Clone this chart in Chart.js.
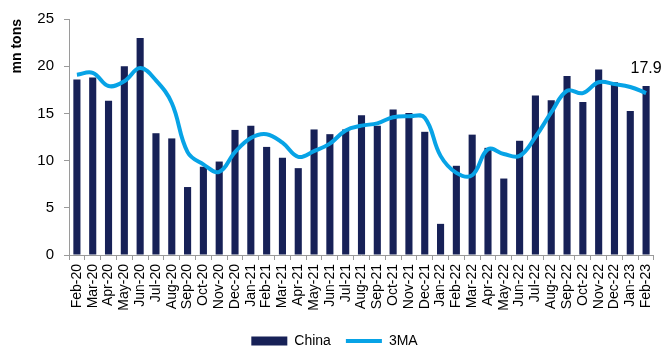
<!DOCTYPE html>
<html>
<head>
<meta charset="utf-8">
<script src="https://cdn.jsdelivr.net/npm/chart.js@4/dist/chart.umd.min.js"></script>
<style>
  html, body { margin: 0; padding: 0; background: #fff; }
  #wrap { width: 667px; height: 354px; }
</style>
</head>
<body>
<div id="wrap"><canvas id="coalChart"></canvas></div>
<script>
const months = ['Feb-20', 'Mar-20', 'Apr-20', 'May-20', 'Jun-20', 'Jul-20', 'Aug-20', 'Sep-20', 'Oct-20', 'Nov-20', 'Dec-20',
    'Jan-21', 'Feb-21', 'Mar-21', 'Apr-21', 'May-21', 'Jun-21', 'Jul-21', 'Aug-21', 'Sep-21', 'Oct-21', 'Nov-21', 'Dec-21',
    'Jan-22', 'Feb-22', 'Mar-22', 'Apr-22', 'May-22', 'Jun-22', 'Jul-22', 'Aug-22', 'Sep-22', 'Oct-22', 'Nov-22', 'Dec-22',
    'Jan-23', 'Feb-23'];

const china = [18.6, 18.8, 16.35, 20.0, 23.0, 12.9, 12.35, 7.2, 9.35, 9.9, 13.25,
    13.7, 11.45, 10.3, 9.2, 13.3, 12.8, 13.3, 14.8, 13.7, 15.4, 15.05, 13.05,
    3.3, 9.45, 12.75, 11.35, 8.1, 12.1, 16.9, 16.4, 18.95, 16.2, 19.65, 18.3,
    15.25, 17.9];

const ma3 = [19.1, 19.3, 17.9, 18.4, 19.8, 18.5, 16.1, 10.9, 9.6, 8.8, 10.9,
    12.4, 12.8, 11.9, 10.4, 11.0, 11.8, 13.2, 13.7, 13.95, 14.6, 14.7, 14.55,
    10.5, 8.7, 8.45, 11.2, 10.7, 10.5, 12.5, 15.1, 17.4, 17.15, 18.3, 18.1,
    17.8, 17.15];

const yTicks = [0, 5, 10, 15, 20, 25];

const navy = '#172157';
const sky = '#07a3e6';
const axisGrey = '#9a9a9a';

Chart.defaults.font.family = '"Liberation Sans", Arial, sans-serif';
Chart.defaults.color = '#000';

// value label over the last bar
const lastLabel = {
    id: 'lastLabel',
    afterDatasetsDraw(chart) {
        const meta = chart.getDatasetMeta(0);
        const bar = meta.data[meta.data.length - 1];
        const ctx = chart.ctx;
        ctx.save();
        ctx.font = '16px "Liberation Sans", Arial, sans-serif';
        ctx.fillStyle = '#000';
        ctx.textAlign = 'center';
        ctx.textBaseline = 'bottom';
        ctx.fillText(china[china.length - 1].toFixed(1), bar.x, bar.y - 9);
        ctx.restore();
    }
};

const ctx = document.getElementById('coalChart').getContext('2d');
new Chart(ctx, {
    type: 'bar',
    data: {
        labels: months,
        datasets: [
            {
                type: 'bar',
                label: 'China',
                data: china,
                backgroundColor: navy,
                borderColor: navy,
                barPercentage: 0.45,
                categoryPercentage: 1,
                order: 1
            },
            {
                type: 'line',
                label: '3MA',
                data: ma3,
                borderColor: sky,
                backgroundColor: sky,
                borderWidth: 4,
                pointRadius: 0,
                tension: 0.4,
                fill: false,
                order: 0
            }
        ]
    },
    options: {
        responsive: true,
        maintainAspectRatio: false,
        animation: false,
        layout: { padding: { top: 11, right: 8, left: 10, bottom: -4 } },
        plugins: {
            tooltip: { enabled: false },
            legend: {
                position: 'bottom',
                labels: {
                    usePointStyle: true,
                    pointStyleWidth: 36,
                    boxHeight: 9,
                    padding: 15,
                    font: { size: 14 },
                    generateLabels: chart => chart.data.datasets.map((ds, i) => ({
                        text: ds.label,
                        fillStyle: ds.backgroundColor,
                        strokeStyle: ds.borderColor,
                        lineWidth: ds.type === 'line' ? 4 : 0,
                        pointStyle: ds.type === 'line' ? 'line' : 'rect',
                        datasetIndex: i,
                        hidden: false,
                        fontColor: '#000'
                    }))
                }
            }
        },
        scales: {
            x: {
                grid: { offset: true, drawOnChartArea: false, tickLength: 5, color: axisGrey },
                border: { color: axisGrey },
                ticks: {
                    autoSkip: false,
                    maxRotation: 90,
                    minRotation: 90,
                    padding: 4,
                    font: { size: 14 }
                },
                afterFit: scale => { scale.height = 64; }
            },
            y: {
                min: 0,
                max: 25,
                grid: { drawOnChartArea: false, tickLength: 5, color: axisGrey },
                border: { color: axisGrey },
                afterBuildTicks: scale => { scale.ticks = yTicks.map(v => ({ value: v })); },
                ticks: { padding: 10, font: { size: 15 } },
                title: {
                    display: true,
                    text: 'mn tons',
                    align: 'end',
                    padding: { top: -1, bottom: 0 },
                    font: { size: 14, weight: 'bold' }
                },
                afterFit: scale => { scale.width = 59; }
            }
        }
    },
    plugins: [lastLabel]
});
</script>
</body>
</html>
